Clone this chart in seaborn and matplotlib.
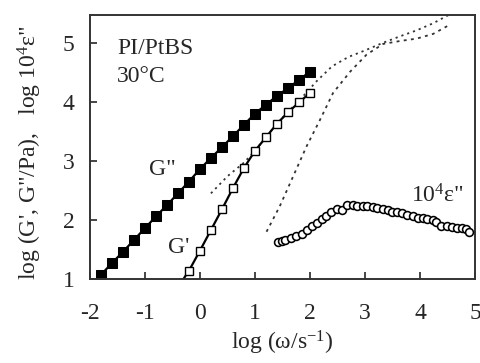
import numpy as np
import pandas as pd
import matplotlib
matplotlib.use("Agg")
import matplotlib.pyplot as plt
import seaborn as sns

# log omega for the rheology data
x_gpp = [-1.8, -1.6, -1.4, -1.2, -1.0, -0.8, -0.6, -0.4, -0.2, 0.0,
         0.2, 0.4, 0.6, 0.8, 1.0, 1.2, 1.4, 1.6, 1.8, 2.0]
y_gpp = [1.07, 1.27, 1.46, 1.66, 1.86, 2.06, 2.25, 2.45, 2.65, 2.86,
         3.05, 3.23, 3.42, 3.61, 3.80, 3.95, 4.10, 4.23, 4.37, 4.51]

x_gp = [-0.2, 0.0, 0.2, 0.4, 0.6, 0.8, 1.0, 1.2, 1.4, 1.6, 1.8, 2.0]
y_gp = [1.14, 1.48, 1.83, 2.18, 2.54, 2.88, 3.17, 3.40, 3.63, 3.82, 3.99, 4.15]
# solid guide line through G' extended to the bottom axis
x_gp_line = [-0.35] + x_gp
y_gp_line = [0.93] + y_gp

# dielectric loss 10^4 eps''
x_eps = [1.42, 1.50, 1.55, 1.65, 1.75, 1.85, 1.94, 2.03, 2.12, 2.21, 2.30, 2.39,
         2.49, 2.58, 2.68, 2.78, 2.86, 2.96, 3.04, 3.14, 3.22, 3.32, 3.41,
         3.50, 3.59, 3.68, 3.77, 3.87, 3.96, 4.05, 4.13, 4.23, 4.30, 4.39,
         4.49, 4.58, 4.67, 4.76, 4.83, 4.90]
y_eps = [1.63, 1.65, 1.66, 1.70, 1.72, 1.77, 1.83, 1.89, 1.94, 2.02, 2.07, 2.14,
         2.19, 2.17, 2.25, 2.25, 2.24, 2.24, 2.23, 2.22, 2.20, 2.19, 2.17,
         2.14, 2.13, 2.11, 2.08, 2.06, 2.04, 2.03, 2.02, 2.00, 1.97, 1.90,
         1.89, 1.88, 1.87, 1.86, 1.84, 1.80]

# model curves (dotted)
x_model_a = [0.2, 0.5, 0.8, 1.0, 1.2, 1.4, 1.6, 1.8, 2.0, 2.1, 2.4, 2.7, 3.0, 3.33,
             3.64, 3.94, 4.24, 4.52]
y_model_a = [2.45, 2.74, 2.97, 3.17, 3.40, 3.63, 3.83, 4.02, 4.22, 4.33, 4.60, 4.76,
             4.87, 5.00, 5.11, 5.21, 5.33, 5.47]
x_model_b = [1.21, 1.45, 1.70, 1.94, 2.18, 2.42, 2.73, 3.03, 3.33, 3.64, 3.94, 4.24, 4.55]
y_model_b = [1.80, 2.23, 2.75, 3.25, 3.69, 4.15, 4.51, 4.80, 4.98, 5.03, 5.07, 5.15, 5.31]

sns.set_style("ticks")
plt.rcParams["font.family"] = ["Liberation Serif", "DejaVu Serif"]
plt.rcParams["mathtext.fontset"] = "custom"
plt.rcParams["mathtext.rm"] = "Liberation Serif"
plt.rcParams["mathtext.it"] = "Liberation Serif:italic"
plt.rcParams["axes.unicode_minus"] = False

fs = 17

fig = plt.figure(figsize=(4.81, 3.63), dpi=100)
ax = fig.add_axes([0.187, 0.2314, 0.8005, 0.7273])

# model curves
sns.lineplot(x=x_model_a, y=y_model_a, ax=ax, sort=False, color="#333333",
             linewidth=1.3, linestyle=(0, (1.2, 2.2)))
sns.lineplot(x=x_model_b, y=y_model_b, ax=ax, sort=False, color="#333333",
             linewidth=1.3, linestyle=(0, (1.6, 2.4)))

# G'' filled squares
sns.lineplot(x=x_gpp, y=y_gpp, ax=ax, sort=False, color="black", linewidth=1.6,
             marker="s", markersize=6.8, markerfacecolor="black",
             markeredgecolor="black")

# G' open squares
sns.lineplot(x=x_gp_line, y=y_gp_line, ax=ax, sort=False, color="black",
             linewidth=1.6)
sns.lineplot(x=x_gp, y=y_gp, ax=ax, sort=False, color="black", linewidth=0,
             marker="s", markersize=6.2, markerfacecolor="white",
             markeredgecolor="black", markeredgewidth=1.0)

# eps'' open circles
sns.scatterplot(x=x_eps, y=y_eps, ax=ax, marker="o", s=32, facecolor="white",
                edgecolor="black", linewidth=1.15, zorder=5)

ax.set_xlim(-2, 5)
ax.set_ylim(1, 5.47)
ax.set_xticks(range(-2, 6))
ax.set_yticks(range(1, 6))
ax.tick_params(direction="in", length=5, width=1.2, labelsize=fs,
               top=False, right=False)
ax.tick_params(axis="x", pad=17)
ax.tick_params(axis="y", pad=11)
for side in ["left", "bottom", "top", "right"]:
    ax.spines[side].set_visible(True)
    ax.spines[side].set_linewidth(1.4)
    ax.spines[side].set_color("#333333")

ax.set_xlabel("log (ω/s$^{-1}$)", fontsize=fs, labelpad=4)
ax.set_ylabel("")
fig.text(30 / 481, 1 - 153 / 363, 'log (G\', G"/Pa),   log 10$^4$ε"',
         rotation=90, ha="center", va="center", fontsize=fs)

ax.text(-1.51, 4.81, "PI/PtBS", fontsize=fs)
ax.text(-1.51, 4.34, "30°C", fontsize=fs)
ax.text(-0.69, 2.85, 'G"', fontsize=fs, ha="center", va="center")
ax.text(-0.38, 1.53, "G'", fontsize=fs, ha="center", va="center")
ax.text(4.31, 2.41, '10$^4$ε"', fontsize=fs, ha="center", va="center")

fig.savefig("out.png", dpi=100)
